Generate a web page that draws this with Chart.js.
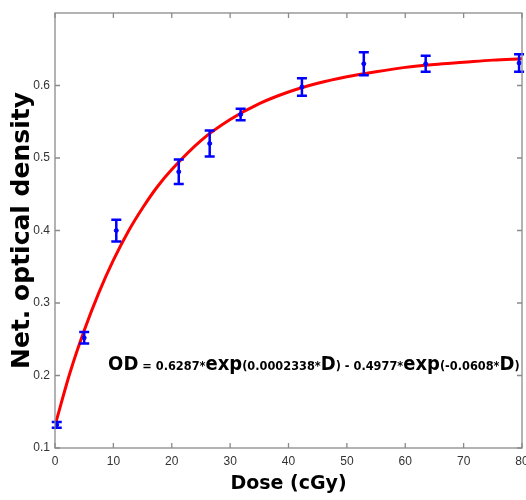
<!DOCTYPE html>
<html>
<head>
<meta charset="utf-8">
<script src="https://cdn.jsdelivr.net/npm/chart.js@4/dist/chart.umd.min.js"></script>
<style>
  body { margin: 0; background: #fff; }
  #odChart { display: block; }
</style>
</head>
<body>
<canvas id="odChart" width="526" height="500"></canvas>
<script>
// measured points (dose in cGy, net OD, error)
let doseValues = [0.3, 5, 10.5, 21.2, 26.5, 31.8, 42.3, 52.9, 63.5, 79.5];
let odValues = [0.132, 0.252, 0.400, 0.481, 0.520, 0.560, 0.598, 0.630, 0.630, 0.631];
let odErrors = [0.004, 0.008, 0.015, 0.017, 0.018, 0.008, 0.012, 0.016, 0.011, 0.012];

// fitted curve
let fitDose = [0, 2.5, 5, 7.5, 10, 12.5, 15, 17.5, 20, 25, 30, 35, 40, 45, 50, 55, 60, 65, 70, 75, 80];
let fitOD = [0.131, 0.202, 0.262, 0.314, 0.359, 0.398, 0.431, 0.460, 0.484, 0.524, 0.553, 0.575, 0.591, 0.603, 0.612, 0.619, 0.625, 0.629, 0.632, 0.635, 0.637];

let xTicks = [0, 10, 20, 30, 40, 50, 60, 70, 80];
let yTickLabels = ["0.1", "0.2", "0.3", "0.4", "0.5", "0.6"];

let equationParts = [
    ["OD", true], [" = 0.6287*", false], ["exp", true], ["(0.0002338*", false],
    ["D", true], [") - 0.4977*", false], ["exp", true], ["(-0.0608*", false],
    ["D", true], [")", false]
];

let errorBars = {
    id: 'errorBars',
    afterDatasetsDraw(chart) {
        let ctx = chart.ctx;
        let xs = chart.scales.x, ys = chart.scales.y;
        ctx.save();
        ctx.strokeStyle = '#0000ff';
        ctx.lineWidth = 2.5;
        doseValues.forEach((d, i) => {
            let px = xs.getPixelForValue(d);
            let top = ys.getPixelForValue(odValues[i] + odErrors[i]);
            let bot = ys.getPixelForValue(odValues[i] - odErrors[i]);
            ctx.beginPath();
            ctx.moveTo(px, top); ctx.lineTo(px, bot);
            ctx.moveTo(px - 5, top); ctx.lineTo(px + 5, top);
            ctx.moveTo(px - 5, bot); ctx.lineTo(px + 5, bot);
            ctx.stroke();
        });
        ctx.restore();
    }
};

let boxAndTicks = {
    id: 'boxAndTicks',
    afterDraw(chart) {
        let ctx = chart.ctx;
        let a = chart.chartArea;
        let xs = chart.scales.x, ys = chart.scales.y;
        ctx.save();
        ctx.strokeStyle = '#8a8a8a';
        ctx.lineWidth = 1.3;
        ctx.strokeRect(a.left, a.top, a.right - a.left, a.bottom - a.top);
        ctx.beginPath();
        xTicks.forEach(v => {
            let px = xs.getPixelForValue(v);
            ctx.moveTo(px, a.bottom); ctx.lineTo(px, a.bottom - 5);
            ctx.moveTo(px, a.top); ctx.lineTo(px, a.top + 5);
        });
        yTickLabels.forEach(t => {
            let py = ys.getPixelForValue(parseFloat(t));
            ctx.moveTo(a.left, py); ctx.lineTo(a.left + 5, py);
            ctx.moveTo(a.right, py); ctx.lineTo(a.right - 5, py);
        });
        ctx.stroke();

        // equation text
        let big = 'bold 19px "DejaVu Sans"';
        let small = 'bold 12px "DejaVu Sans"';
        let total = 0;
        equationParts.forEach(p => { ctx.font = p[1] ? big : small; total += ctx.measureText(p[0]).width; });
        let startX = xs.getPixelForValue(9.1);
        let baseY = ys.getPixelForValue(0.207);
        let scaleX = (xs.getPixelForValue(79.6) - startX) / total;
        ctx.translate(startX, baseY);
        ctx.scale(scaleX, 1);
        ctx.fillStyle = '#000';
        ctx.textBaseline = 'alphabetic';
        let cx = 0;
        equationParts.forEach(p => {
            ctx.font = p[1] ? big : small;
            ctx.fillText(p[0], cx, 0);
            cx += ctx.measureText(p[0]).width;
        });
        ctx.restore();
    }
};

let ctxOD = document.getElementById("odChart");

let odChart = new Chart(ctxOD, {
    type: 'scatter',
    data: {
        datasets: [
            {
                label: "Fit",
                data: fitDose.map((d, i) => ({ x: d, y: fitOD[i] })),
                showLine: true,
                borderColor: '#ff0000',
                borderWidth: 3,
                pointRadius: 0,
                cubicInterpolationMode: 'monotone',
                order: 2
            },
            {
                label: "Measured",
                data: doseValues.map((d, i) => ({ x: d, y: odValues[i] })),
                showLine: false,
                pointRadius: 2,
                pointBackgroundColor: '#0000ff',
                pointBorderColor: '#0000ff',
                order: 1
            }
        ]
    },
    options: {
        responsive: false,
        animation: false,
        layout: { autoPadding: false, padding: { top: 13, right: 4, left: 0, bottom: 0 } },
        plugins: {
            legend: { display: false },
            tooltip: { enabled: false }
        },
        scales: {
            x: {
                type: 'linear',
                min: 0,
                max: 80,
                afterFit: (s) => { s.height = 52; s.paddingLeft = 0; s.paddingRight = 0; },
                afterBuildTicks: (s) => { s.ticks = xTicks.map(v => ({ value: v })); },
                grid: { display: false, drawTicks: false },
                border: { display: false },
                ticks: {
                    padding: 6,
                    color: '#333',
                    font: { family: 'Liberation Sans', size: 12 },
                    maxRotation: 0
                },
                title: {
                    display: true,
                    text: 'Dose (cGy)',
                    color: '#000',
                    font: { family: 'DejaVu Sans', size: 19, weight: 'bold' },
                    padding: { top: 0, bottom: 5 }
                }
            },
            y: {
                type: 'linear',
                min: 0.1,
                max: 0.7,
                afterFit: (s) => { s.width = 55; s.paddingTop = 0; s.paddingBottom = 0; },
                afterBuildTicks: (s) => { s.ticks = yTickLabels.map(t => ({ value: parseFloat(t) })); },
                grid: { display: false, drawTicks: false },
                border: { display: false },
                ticks: {
                    padding: 5,
                    color: '#333',
                    font: { family: 'Liberation Sans', size: 12 },
                    callback: (v, i) => yTickLabels[i]
                },
                title: {
                    display: true,
                    text: 'Net. optical density',
                    color: '#000',
                    font: { family: 'DejaVu Sans', size: 25, weight: 'bold' },
                    padding: { top: 7, bottom: 0 }
                }
            }
        }
    },
    plugins: [errorBars, boxAndTicks]
});
</script>
</body>
</html>
